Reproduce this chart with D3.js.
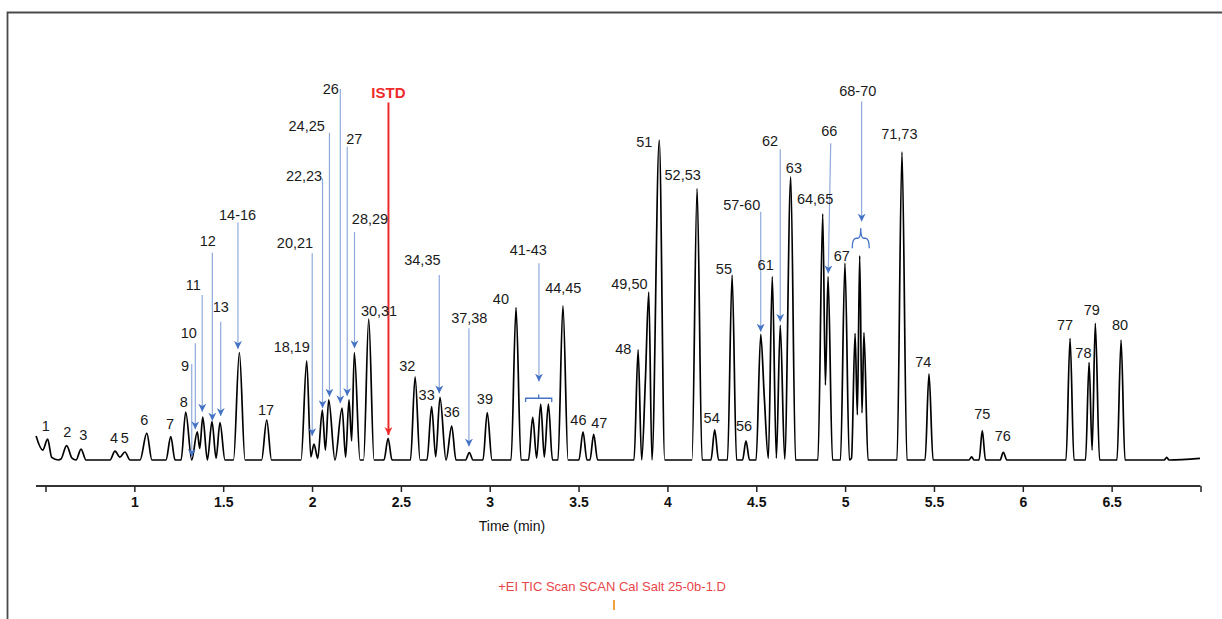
<!DOCTYPE html>
<html>
<head>
<meta charset="utf-8">
<script src="https://cdn.jsdelivr.net/npm/d3@7"></script>
<style>
  body { margin: 0; background: #fff; }
  svg { display: block; font-family: "Liberation Sans", Arial, sans-serif; }
</style>
</head>
<body>
<svg id="chart"></svg>
<script>
// TIC trace: time (min) and relative signal
const traceTime = [
  0.447, 0.484, 0.512, 0.535, 0.572, 0.587, 0.619, 0.649, 0.672, 0.700, 0.728,
  0.863, 0.891, 0.919, 0.947, 0.976, 1.032, 1.070, 1.099, 1.178, 1.205, 1.229,
  1.263, 1.289, 1.323, 1.354, 1.368, 1.385, 1.411, 1.437, 1.460, 1.482, 1.510,
  1.558, 1.591, 1.623, 1.716, 1.745, 1.772, 1.938, 1.970, 1.993, 2.011, 2.032,
  2.058, 2.075, 2.094, 2.129, 2.169, 2.189, 2.208, 2.223, 2.238, 2.270, 2.290,
  2.319, 2.349, 2.405, 2.428, 2.450, 2.554, 2.580, 2.608, 2.647, 2.673, 2.696,
  2.720, 2.754, 2.786, 2.810, 2.864, 2.885, 2.906, 2.962, 2.986, 3.013, 3.120,
  3.148, 3.176, 3.218, 3.242, 3.264, 3.287, 3.307, 3.330, 3.353, 3.384, 3.412,
  3.441, 3.502, 3.525, 3.547, 3.564, 3.585, 3.607, 3.812, 3.835, 3.855, 3.876,
  3.895, 3.913, 3.954, 3.985, 4.138, 4.167, 4.195, 4.245, 4.266, 4.288, 4.338,
  4.364, 4.389, 4.423, 4.442, 4.462, 4.499, 4.525, 4.545, 4.568, 4.590, 4.613,
  4.635, 4.660, 4.694, 4.721, 4.847, 4.874, 4.889, 4.904, 4.929, 4.974, 4.999,
  5.024, 5.036, 5.056, 5.069, 5.082, 5.095, 5.106, 5.129, 5.292, 5.320, 5.348,
  5.450, 5.472, 5.495, 5.697, 5.712, 5.725, 5.754, 5.772, 5.790, 5.872, 5.890,
  5.911, 6.243, 6.266, 6.288, 6.353, 6.373, 6.390, 6.408, 6.432, 6.530, 6.553,
  6.575, 6.795, 6.810, 6.823, 6.997
];
const traceSignal = [
  7.5, 3.1, 6.5, 0.8, 0, 0.3, 4.5, 0.6, 0, 3.4, 0,
  0, 2.8, 0.9, 2.5, 0, 0, 8.4, 0, 0, 7.3, 0,
  0, 15.0, 0, 8.8, 3.6, 13.4, 0, 12.0, 0.6, 11.7, 0,
  0, 33.6, 0, 0, 12.5, 0, 0, 31.0, 1.0, 5.0, 0.5,
  15.6, 3.1, 18.8, 0, 16.2, 0.9, 18.8, 6.0, 33.6, 0, 0,
  44.0, 0, 0, 6.8, 0, 0, 26.0, 0, 0, 16.7, 1.0,
  19.6, 0, 10.6, 0, 0, 2.3, 0, 0, 14.8, 0, 0,
  47.6, 0, 0, 13.3, 0.6, 17.5, 0.9, 17.5, 0, 0, 48.2,
  0, 0, 8.8, 0, 0, 8.0, 0, 0, 34.4, 0, 25.0,
  52.5, 0, 100, 0, 0, 84.8, 0, 0, 9.4, 0, 0,
  57.8, 0, 0, 6.0, 0, 0, 39.3, 19.8, 0.5, 57.3, 0.6,
  42.1, 0.3, 88.5, 0, 0, 76.9, 23.4, 57.3, 0, 0, 61.5,
  0, 0.6, 39.6, 14.1, 63.8, 14.7, 39.8, 0, 0, 96.3, 0,
  0, 26.9, 0, 0, 1.0, 0, 0, 9.2, 0, 0, 2.4,
  0, 0, 38.0, 0, 0, 30.5, 3.1, 42.7, 0, 0, 37.5,
  0, 0, 0.8, 0, 0.5
];

// axis ticks
const tickValues = [0.5, 1, 1.5, 2, 2.5, 3, 3.5, 4, 4.5, 5, 5.5, 6, 6.5, 7];
const tickLabels = ["", "1", "1.5", "2", "2.5", "3", "3.5", "4", "4.5", "5", "5.5", "6", "6.5", ""];

// peak labels (text centre in time / signal units)
const labelText = ["1","2","3","4","5","6","7","8","9","10","11","12","13","14-16","17",
  "18,19","20,21","22,23","24,25","26","27","28,29","30,31","32","33","34,35","36","37,38",
  "39","40","41-43","44,45","46","47","48","49,50","51","52,53","54","55","56","57-60",
  "61","62","63","64,65","66","67","68-70","71,73","74","75","76","77","78","79","80"];
const labelTime = [0.501,0.623,0.713,0.886,0.946,1.056,1.201,1.278,1.285,1.306,1.332,1.413,1.487,1.581,1.741,
  1.886,1.904,1.955,1.970,2.105,2.238,2.326,2.377,2.536,2.645,2.621,2.786,2.885,
  2.973,3.063,3.217,3.414,3.499,3.617,3.752,3.786,3.870,4.086,4.249,4.318,4.431,4.418,
  4.553,4.577,4.712,4.831,4.911,4.981,5.071,5.305,5.440,5.772,5.887,6.238,6.341,6.388,6.547];
const labelSignal = [10.6,8.75,8.0,7.0,7.0,12.5,11.2,18.1,29.4,39.7,54.7,68.6,47.9,76.6,15.7,
  35.4,67.9,88.75,104.5,115.9,100.5,75.3,46.7,29.5,20.3,62.5,15.1,44.6,
  19.0,50.5,65.6,53.7,12.7,11.5,34.9,55.0,99.5,89.1,13.3,59.9,10.6,79.7,
  60.9,99.8,91.2,81.6,102.9,63.75,115.4,101.8,30.7,14.3,7.5,42.4,33.5,46.9,42.4];

// blue pointer arrows: time at label end, time at tip, signal at both ends
const arrowTimeFrom = [1.323,1.343,1.382,1.439,1.486,1.583,2.001,2.059,2.098,2.159,2.198,2.239,2.716,2.883,3.277,4.525,4.635,4.919,5.093];
const arrowTimeTo   = [1.323,1.343,1.382,1.439,1.486,1.583,2.001,2.059,2.098,2.159,2.198,2.239,2.716,2.883,3.277,4.525,4.635,4.905,5.093];
const arrowFrom = [30.0,36.5,51.6,64.8,43.2,74.2,64.6,88.0,102.3,115.9,97.9,71.3,57.8,41.2,61.5,77.6,97.1,99.0,112.0];
const arrowTo   = [1.0,9.6,15.1,12.3,13.75,34.7,7.5,16.2,19.8,17.7,20.0,34.9,20.8,4.2,24.5,40.1,43.2,58.3,74.5];

// internal standard
const istdText = "ISTD";
const istdTime = 2.430;
const istdLabelSignal = 114.8;
const istdFrom = 111.7;
const istdTo = 7.8;

// group brackets: start, end, signal at foot, signal at top
const bracketStart = [3.202, 5.040];
const bracketEnd = [3.349, 5.136];
const bracketFoot = [18.1, 66.2];
const bracketTop = [20.5, 72.4];

const xTitle = "Time (min)";
const fileTitle = "+EI TIC Scan SCAN Cal Salt 25-0b-1.D";

const W = 1222, H = 619;
const svg = d3.select("#chart").attr("width", W).attr("height", H);
svg.append("rect").attr("width", W).attr("height", H).attr("fill", "#fff");

// frame (left + top edge only visible)
svg.append("path")
  .attr("d", `M7.5,${H} L7.5,12.5 L${W},12.5`)
  .attr("fill", "none").attr("stroke", "#4a4a4a").attr("stroke-width", 1.8);

const x = d3.scaleLinear().domain([0.5, 7]).range([45.5, 1200.5]);
const y = d3.scaleLinear().domain([0, 100]).range([460, 140]);

const axisY = 486;
svg.append("line")
  .attr("x1", 36).attr("x2", x(7)).attr("y1", axisY).attr("y2", axisY)
  .attr("stroke", "#333").attr("stroke-width", 2.2);

const ax = svg.append("g")
  .attr("transform", `translate(0,${axisY})`)
  .call(d3.axisBottom(x).tickValues(tickValues).tickSize(6).tickPadding(5)
    .tickFormat((d, i) => tickLabels[i]));
ax.select(".domain").remove();
ax.selectAll(".tick line").attr("stroke", "#222").attr("stroke-width", 1.5);
ax.selectAll(".tick text")
  .attr("font-family", "Liberation Sans, Arial, sans-serif")
  .attr("font-size", 14).attr("font-weight", "bold").attr("fill", "#111");

svg.append("text")
  .attr("x", 512).attr("y", 531)
  .attr("text-anchor", "middle").attr("font-size", 14).attr("fill", "#111")
  .text(xTitle);

svg.append("text")
  .attr("x", 612).attr("y", 591)
  .attr("text-anchor", "middle").attr("font-size", 13).attr("fill", "#e8454a")
  .text(fileTitle);
svg.append("line")
  .attr("x1", 614).attr("x2", 614).attr("y1", 600).attr("y2", 610)
  .attr("stroke", "#f0a040").attr("stroke-width", 2);

// markers
const defs = svg.append("defs");
function marker(id, color) {
  defs.append("marker").attr("id", id)
    .attr("viewBox", "0 0 10 10").attr("refX", 10).attr("refY", 5)
    .attr("markerWidth", 8).attr("markerHeight", 8)
    .attr("markerUnits", "userSpaceOnUse").attr("orient", "auto")
    .append("path").attr("d", "M0,0 L10,5 L0,10 L3,5 z").attr("fill", color);
}
marker("blueHead", "#4472c4");
marker("redHead", "#ee2a2a");

// the trace
const pts = traceTime.map((t, i) => [t, traceSignal[i]]);
svg.append("path")
  .datum(pts)
  .attr("fill", "none").attr("stroke", "#000").attr("stroke-width", 1.7)
  .attr("stroke-linejoin", "round")
  .attr("d", d3.line().x(d => x(d[0])).y(d => y(d[1])).curve(d3.curveMonotoneX));

// blue arrows
svg.selectAll(".ptr")
  .data(arrowFrom)
  .enter()
  .append("line")
  .attr("class", "ptr")
  .attr("x1", (d, i) => x(arrowTimeFrom[i]))
  .attr("y1", d => y(d))
  .attr("x2", (d, i) => x(arrowTimeTo[i]))
  .attr("y2", (d, i) => y(arrowTo[i]))
  .attr("stroke", "#8eaadb").attr("stroke-width", 1.2)
  .attr("marker-end", "url(#blueHead)");

// brackets
bracketStart.forEach((s, i) => {
  const x0 = x(s), x1 = x(bracketEnd[i]), xm = (x0 + x1) / 2;
  const yf = y(bracketFoot[i]), yt = y(bracketTop[i]);
  const yb = yf - (yf - yt) * 0.5;
  let d;
  if (i === 0) {
    d = `M${x0},${yf} L${x0},${yb} L${x1},${yb} L${x1},${yf} M${xm},${yb} L${xm},${yt}`;
  } else {
    d = `M${x0},${yf} Q${x0},${yb} ${x0 + 4},${yb} L${xm - 3},${yb} Q${xm},${yb} ${xm},${yt}` +
        ` Q${xm},${yb} ${xm + 3},${yb} L${x1 - 4},${yb} Q${x1},${yb} ${x1},${yf}`;
  }
  svg.append("path").attr("d", d).attr("fill", "none")
    .attr("stroke", "#4472c4").attr("stroke-width", 1.3);
});

// ISTD arrow
svg.append("line")
  .attr("x1", x(istdTime)).attr("x2", x(istdTime))
  .attr("y1", y(istdFrom)).attr("y2", y(istdTo))
  .attr("stroke", "#ee2a2a").attr("stroke-width", 2)
  .attr("marker-end", "url(#redHead)");
svg.append("text")
  .attr("x", x(istdTime)).attr("y", y(istdLabelSignal))
  .attr("dy", "0.36em").attr("text-anchor", "middle")
  .attr("font-size", 15).attr("font-weight", "bold").attr("fill", "#ee2a2a")
  .text(istdText);

// peak labels
svg.selectAll(".lbl")
  .data(labelText)
  .enter()
  .append("text")
  .attr("class", "lbl")
  .attr("x", (d, i) => x(labelTime[i]))
  .attr("y", (d, i) => y(labelSignal[i]))
  .attr("dy", "0.36em")
  .attr("text-anchor", "middle")
  .attr("font-size", 14.5)
  .attr("fill", "#1a1a1a")
  .text(d => d);
</script>
</body>
</html>
